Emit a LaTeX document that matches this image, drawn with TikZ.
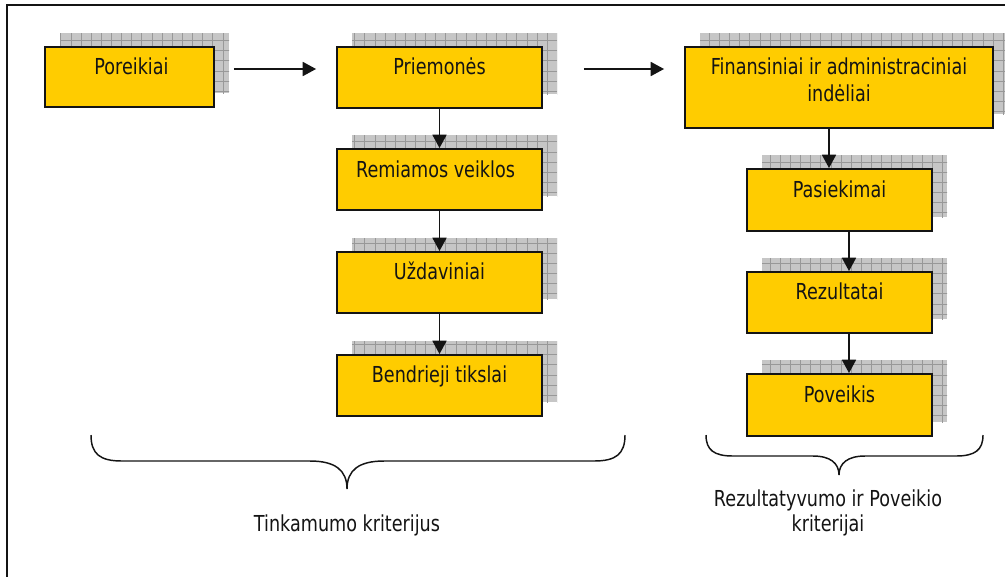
\documentclass[tikz,border=0pt]{standalone}
\usepackage{fontspec}
\setmainfont[FakeStretch=0.8]{DejaVu Sans}
\usetikzlibrary{arrows.meta,calc}
\definecolor{boxfill}{HTML}{FFCC00}
\definecolor{shfill}{HTML}{C6C6C6}
\definecolor{shgrid}{HTML}{989898}
\definecolor{ink}{HTML}{141414}
\tikzset{
  box/.style={draw=ink,fill=boxfill,line width=1.4pt,inner sep=0pt},
  lbl/.style={anchor=base,text=ink,font=\fontsize{16.5}{20.25}\selectfont,align=center,inner sep=0pt},
  conn/.style={draw=ink,line width=1.25pt,-{Triangle[length=10pt,width=10.5pt]}},
  bracepath/.style={draw=ink,line width=1.1pt},
  frameline/.style={draw=ink,line width=1.1pt},
}
% name, cx, cy, w, h  (pixel units, y downward)
\newcommand\mkbox[5]{%
  \begin{scope}
    \clip (#2-#4/2+15,#3+#5/2-14) rectangle (#2+#4/2+15,#3-#5/2-14);
    \fill[shfill] (#2-#4/2+15,#3+#5/2-14) rectangle (#2+#4/2+15,#3-#5/2-14);
    \draw[shgrid,line width=0.6pt,step=7.6pt] (#2-#4/2,#3+#5/2) grid (#2+#4/2+30,#3-#5/2-30);
  \end{scope}
  \node[box,minimum width=#4*0.75pt,minimum height=#5*0.75pt] (#1) at (#2,#3) {};
}
\begin{document}
\begin{tikzpicture}[x=0.75pt,y=-0.75pt]
\useasboundingbox (0,0) rectangle (1005,576);
\draw[frameline] (7,580) -- (7,5) -- (1010,5);

\mkbox{por}{129.5}{77}{169}{60}
\mkbox{pri}{439.5}{77.5}{205}{61}
\mkbox{fin}{839}{87.5}{308}{81}
\mkbox{rem}{439.5}{179.5}{205}{61}
\mkbox{uzd}{439.5}{282.5}{205}{61}
\mkbox{ben}{439.5}{385.5}{205}{61}
\mkbox{pas}{839.5}{200}{185}{62}
\mkbox{rez}{839.5}{302.5}{185}{61}
\mkbox{pov}{839.5}{405}{185}{62}

\node[lbl] (tpor) at ($(por.north)+(2,28.5)$) {Poreikiai};
\node[lbl] (tpri) at ($(pri.north)+(0,28.5)$) {Priemonės};
\node[lbl,font=\fontsize{16.5}{20.5}\selectfont] (tfin) at ($(fin.north)+(0,55.5)$) {Finansiniai ir administraciniai\\indėliai};
\node[lbl] (trem) at ($(rem.north)+(-4,29.5)$) {Remiamos veiklos};
\node[lbl] (tuzd) at ($(uzd.north)+(0,28.5)$) {Uždaviniai};
\node[lbl] (tben) at ($(ben.north)+(0,28.5)$) {Bendrieji tikslai};
\node[lbl] (tpas) at ($(pas.north)+(0,29)$) {Pasiekimai};
\node[lbl] (trez) at ($(rez.north)+(0,28.5)$) {Rezultatai};
\node[lbl] (tpov) at ($(pov.north)+(0,29)$) {Poveikis};

\draw[conn] ($(por.east)+(19,-8)$) -- ($(pri.west)+(-20,-8.5)$);
\draw[conn] ($(pri.east)+(41,-8.5)$) -- ($(fin.west |- pri.east)+(-20,-8.5)$);
\draw[conn] (pri.south) -- (rem.north);
\draw[conn] (rem.south) -- (uzd.north);
\draw[conn] (uzd.south) -- (ben.north);
\draw[conn] ($(fin.south)+(-10,0)$) -- ($(pas.north)+(-10.5,0)$);
\draw[conn] ($(pas.south)+(9.5,0)$) -- ($(rez.north)+(9.5,0)$);
\draw[conn] ($(rez.south)+(9.5,0)$) -- ($(pov.north)+(9.5,0)$);

\draw[bracepath] (91,435) .. controls (91,454) and (100,461) .. (122,461) -- (310,461)
  .. controls (335,461) and (347,470) .. (347,489)
  .. controls (347,470) and (359,461) .. (384,461) -- (594,461)
  .. controls (616,461) and (625,454) .. (625,435);
\draw[bracepath] (706,435) .. controls (706,450) and (714,456) .. (733,456) -- (813,456)
  .. controls (830,456) and (839,463) .. (839,475)
  .. controls (839,463) and (848,456) .. (865,456) -- (956,456)
  .. controls (975,456) and (983,450) .. (983,435);

\node[lbl] (ltin) at (347,531) {Tinkamumo kriterijus};
\node[lbl,font=\fontsize{16.5}{18.75}\selectfont] (lrez) at (828,531) {Rezultatyvumo ir Poveikio\\kriterijai};
\end{tikzpicture}
\end{document}
